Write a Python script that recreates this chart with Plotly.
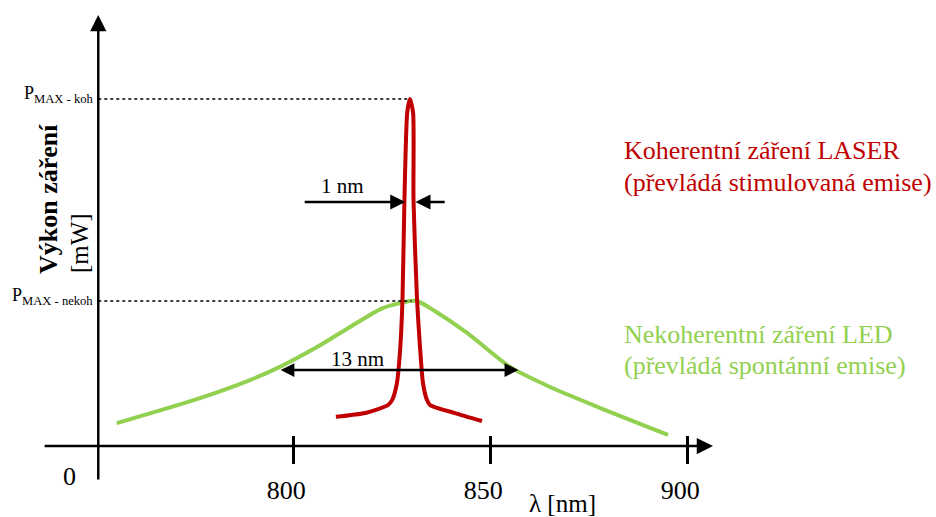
import plotly.graph_objects as go

# ---- data ----
led_wavelength = [755.2, 776.3, 789.0, 796.6, 806.0, 814.4, 822.8, 827.1, 829.6, 831.4,
                  835.5, 844.1, 855.0, 865.2, 877.8, 895.1]
led_power = [6.6, 13.8, 19.0, 22.8, 28.5, 34.3, 39.8, 41.2, 41.8, 41.8,
             39.2, 32.6, 22.8, 17.0, 11.0, 3.2]

laser_wavelength = [810.8, 818.2, 824.0, 825.1, 826.3, 827.1, 827.7, 828.2, 828.9, 829.6,
                    830.4, 830.5, 831.4, 832.2, 832.9, 833.9, 834.7, 841.0, 847.9]
laser_power = [8.4, 9.5, 11.8, 13.3, 18.2, 27.7, 42.1, 70.9, 96.0, 100.0,
               96.0, 70.9, 42.1, 27.7, 18.2, 13.3, 11.8, 9.5, 7.2]

tick_values = [800, 850, 900]
tick_labels = ["800", "850", "900"]

p_max_koh = 100.0
p_max_nekoh = 41.8
laser_fwhm = [828.4, 831.0]
led_fwhm = [796.4, 857.1]

RED = "#C00000"
GREEN = "#92D050"
FONT = "'Liberation Serif', 'Times New Roman', serif"

W, H = 936, 517
X_RANGE = [725.56, 963.1]
Y_RANGE = [-20.46, 128.53]
Y_AXIS_X = 750.5
X_AXIS_START = 736.5
X_AXIS_END = 906.5
Y_AXIS_BOTTOM = -10.1
Y_AXIS_TOP = 124.2


def px(x):
    return x / W


def py(y):
    return 1 - y / H


fig = go.Figure()
fig.add_trace(go.Scatter(x=led_wavelength, y=led_power, mode="lines",
                         line=dict(color=GREEN, width=4, shape="spline", smoothing=0.8),
                         hoverinfo="skip"))
fig.add_trace(go.Scatter(x=laser_wavelength, y=laser_power, mode="lines",
                         line=dict(color=RED, width=4, shape="spline", smoothing=0.6),
                         hoverinfo="skip"))

shapes = [
    dict(type="line", xref="x", yref="y", x0=Y_AXIS_X, x1=laser_wavelength[9], y0=p_max_koh, y1=p_max_koh,
         line=dict(color="black", width=1.5, dash="dot")),
    dict(type="line", xref="x", yref="y", x0=Y_AXIS_X, x1=830.0, y0=p_max_nekoh, y1=p_max_nekoh,
         line=dict(color="black", width=1.5, dash="dot")),
]

annotations = []
# axis arrows
annotations.append(dict(x=X_AXIS_END, y=0, ax=X_AXIS_START, ay=0, xref="x", yref="y", axref="x", ayref="y",
                        text="", showarrow=True, arrowhead=2, arrowwidth=2.5, arrowsize=1.3, arrowcolor="black"))
annotations.append(dict(x=Y_AXIS_X, y=Y_AXIS_TOP, ax=Y_AXIS_X, ay=Y_AXIS_BOTTOM, xref="x", yref="y", axref="x", ayref="y",
                        text="", showarrow=True, arrowhead=2, arrowwidth=2.5, arrowsize=1.3, arrowcolor="black"))
# 1 nm arrows
annotations.append(dict(x=laser_fwhm[0], y=70.3, ax=802.5, ay=70.3, xref="x", yref="y", axref="x", ayref="y",
                        text="", showarrow=True, arrowhead=2, arrowwidth=2.5, arrowsize=1.2, arrowcolor="black"))
annotations.append(dict(x=laser_fwhm[1], y=70.3, ax=838.8, ay=70.3, xref="x", yref="y", axref="x", ayref="y",
                        text="", showarrow=True, arrowhead=2, arrowwidth=2.5, arrowsize=1.2, arrowcolor="black"))
# 13 nm double arrow
annotations.append(dict(x=led_fwhm[1], y=21.9, ax=led_fwhm[0], ay=21.9, xref="x", yref="y", axref="x", ayref="y",
                        text="", showarrow=True, arrowhead=2, startarrowhead=2, arrowside="end+start",
                        arrowwidth=2.5, arrowsize=1.1, startarrowsize=1.1, arrowcolor="black"))

def text(t, x, y, size, color="black", xanchor="center", angle=0):
    annotations.append(dict(text=t, x=px(x), y=py(y), xref="paper", yref="paper", showarrow=False,
                            xanchor=xanchor, yanchor="middle", textangle=angle,
                            font=dict(family=FONT, size=size, color=color)))

text("1 nm", 342, 186, 21)
text("13 nm", 357, 359, 21)
text("0", 69, 476, 26)
text("λ [nm]", 562, 503, 25)
text("P<sub>MAX - koh</sub>", 95, 94, 18, xanchor="right")
text("P<sub>MAX - nekoh</sub>", 95, 296, 18, xanchor="right")
text("<b>Výkon záření</b>", 48, 199, 26, angle=-90)
text("[mW]", 80, 243, 25, angle=-90)
text("Koherentní záření LASER", 622, 151, 26, RED, xanchor="left")
text("(převládá stimulovaná emise)", 622, 182, 26, RED, xanchor="left")
text("Nekoherentní záření LED", 622, 334, 26, GREEN, xanchor="left")
text("(převládá spontánní emise)", 622, 365, 26, GREEN, xanchor="left")

fig.update_layout(
    width=W, height=H, margin=dict(l=0, r=0, t=0, b=0),
    paper_bgcolor="white", plot_bgcolor="white", showlegend=False,
    shapes=shapes, annotations=annotations,
    xaxis=dict(range=X_RANGE, showgrid=False, zeroline=False, showline=False,
               tickvals=tick_values, ticktext=tick_labels, ticks="outside", ticklen=28,
               tickwidth=2.5, tickcolor="black", anchor="free", position=(H - 435) / H,
               tickfont=dict(family=FONT, size=26, color="black"), ticklabelshift=-7,
               ticklabelstandoff=4),
    yaxis=dict(range=Y_RANGE, showgrid=False, zeroline=False, showline=False,
               showticklabels=False, ticks=""),
)

fig.write_html("out.html", config={"displayModeBar": False, "staticPlot": True},
               post_script="document.body.style.margin='0';document.body.style.overflow='hidden';")
